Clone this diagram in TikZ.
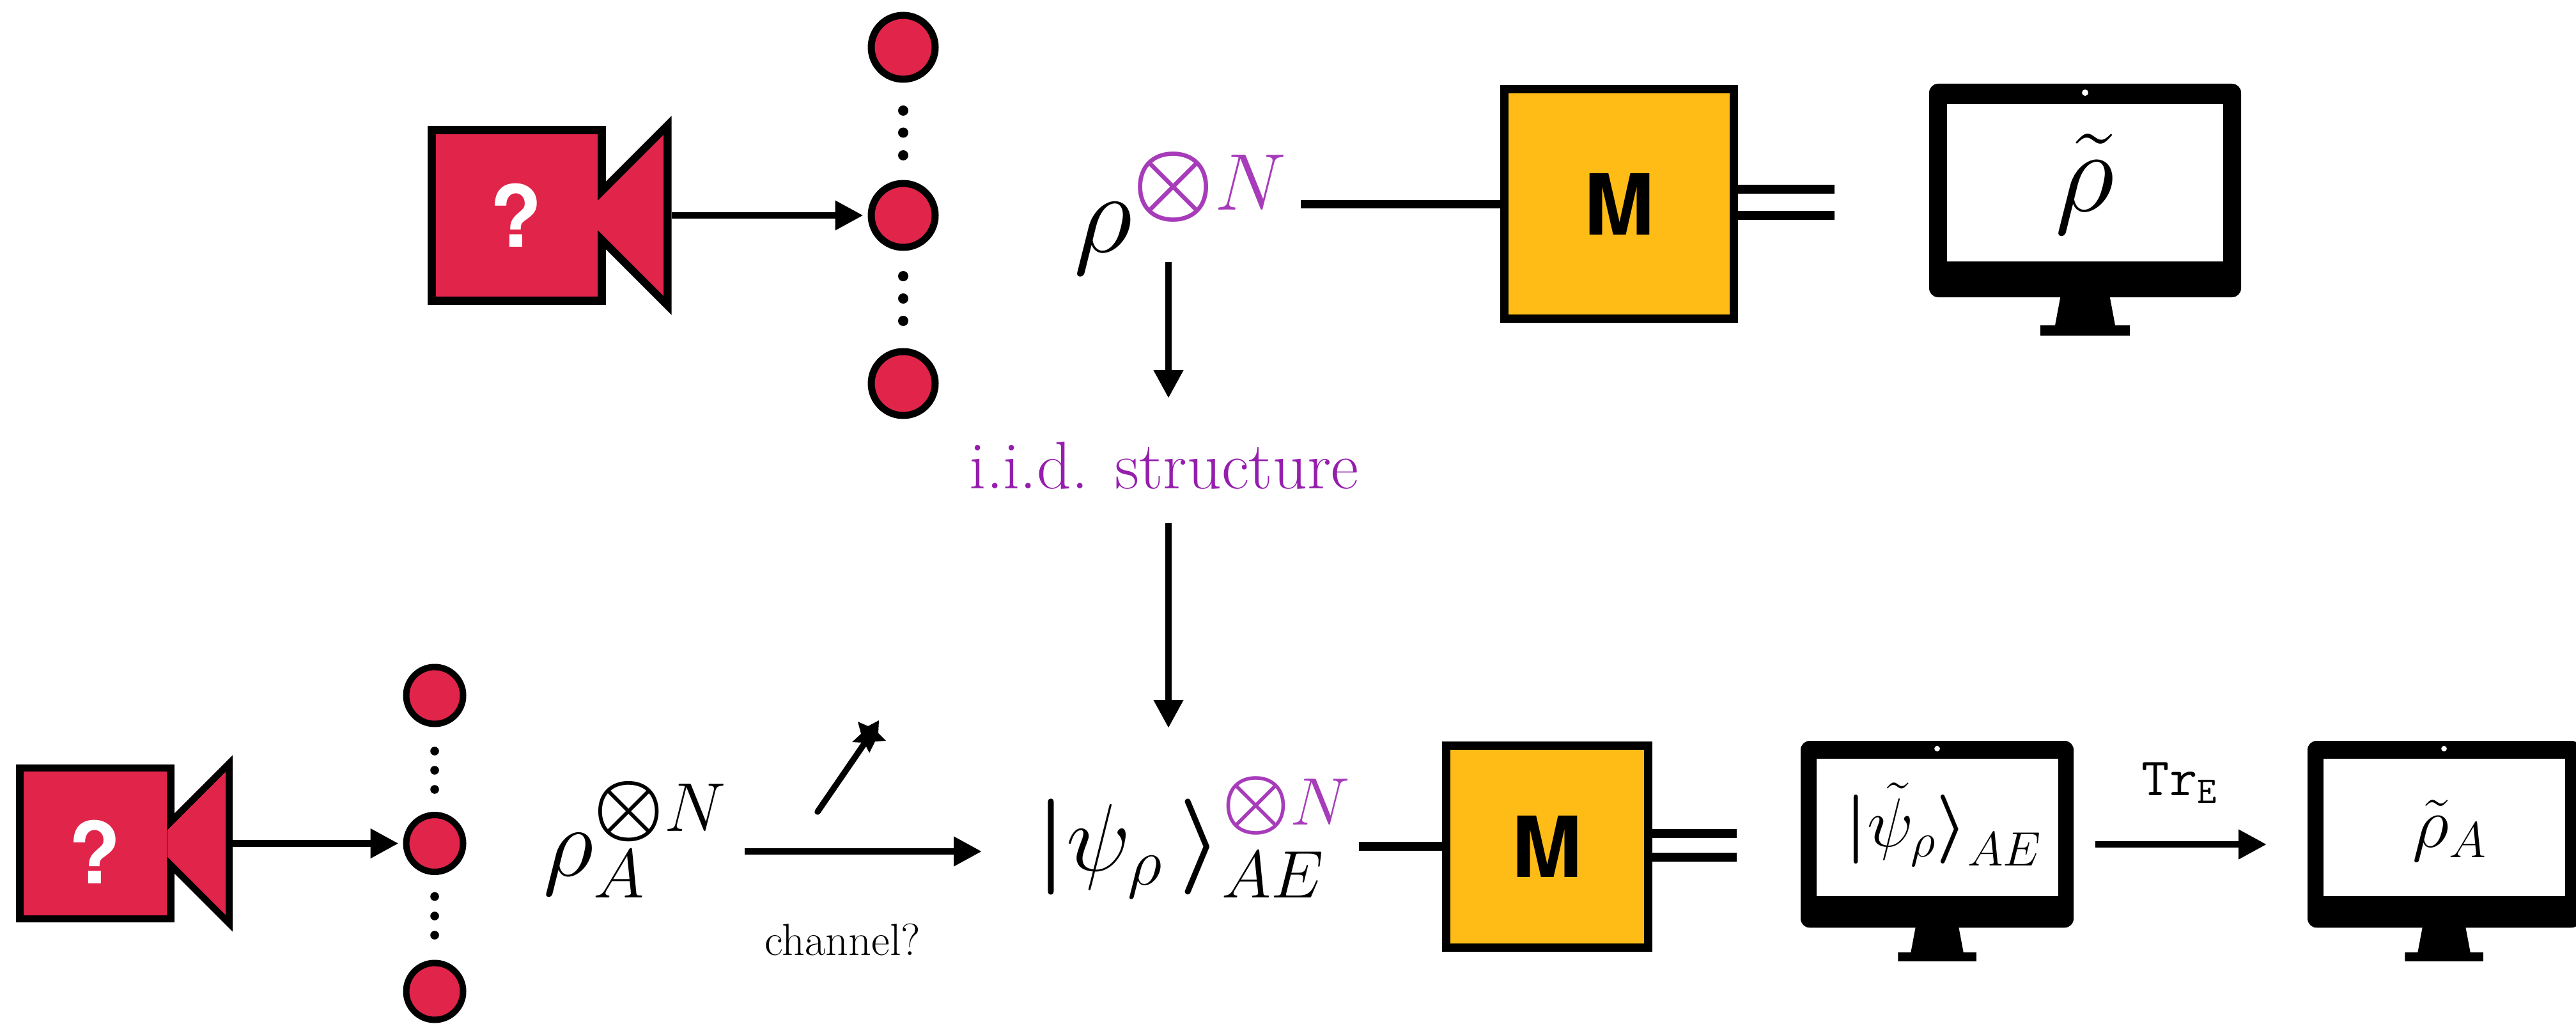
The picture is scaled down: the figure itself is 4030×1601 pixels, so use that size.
\documentclass[tikz,border=0pt]{standalone}
\usepackage{fix-cm}
\usepackage{amsmath}
\usepackage{fontspec}
\usetikzlibrary{arrows.meta}
\newfontfamily\heros{TeX Gyre Heros}
\definecolor{camred}{HTML}{E1244A}
\definecolor{boxamber}{HTML}{FFBC16}
\definecolor{powpurple}{HTML}{A73CBA}
\definecolor{iidpurple}{HTML}{951EAD}
\newcommand{\fsz}[1]{\fontsize{#1}{#1}\selectfont}
\newcommand{\pow}[1]{\textcolor{#1}{\scalebox{1.14}{$\scriptstyle\boldsymbol{\otimes}$}N}}
\tikzset{
    arr/.style={line width=1.05mm,-{Triangle[length=4.4mm,width=4.4mm]}},
    wire/.style={line width=1.33mm},
    measbox/.style={draw=black,fill=boxamber,line width=1.3mm,minimum width=#1,minimum height=#1,inner sep=0pt,font=\heros\bfseries\fsz{37.5}},
    txt/.style={anchor=base west,inner sep=0pt,text=black},
    qubit/.style={circle,draw=black,fill=camred,inner sep=0pt}
}
% camera: name, left edge, middle, scale, shift of the question mark
\newcommand{\camera}[5]{
    \begin{scope}[shift={(#2,#3)},scale=#4]
        \draw[fill=camred,line width=#4*1.3mm] (7,-133) rectangle (273,133);
        \draw[line width=#4*1.3mm] (273,-37) -- (376,-140) -- (376,140) -- (273,37);
        \fill[camred] (267,-23) -- (370,-126) -- (370,126) -- (267,23) -- cycle;
        \node[text=white,inner sep=0pt,font=\heros\bfseries\fsz{38}] (#1q) at (139,#5) {?};
        \coordinate (#1out) at (383,0);
    \end{scope}
}
% monitor: middle, top, scale
\newcommand{\monitor}[3]{
    \begin{scope}[shift={(#1,#2)},scale=#3]
        \fill[rounded corners=1.4mm] (-244,0) rectangle (244,334);
        \fill[white] (-216,32) rectangle (216,278);
        \fill[white] (0,14) circle (5);
        \fill (-38,330) -- (38,330) -- (47,378) -- (70,378) -- (70,394) -- (-70,394) -- (-70,378) -- (-47,378) -- cycle;
    \end{scope}
}
\begin{document}
\begin{tikzpicture}[x=0.1mm,y=-0.1mm]
    \useasboundingbox (0,0) rectangle (4030,1601);

    %top row
    \camera{camtop}{668}{337}{1}{0}
    \node[qubit,minimum size=10mm,line width=1.1mm] (qtopa) at (1413,74) {};
    \node[qubit,minimum size=10mm,line width=1.1mm] (qtopb) at (1413,337) {};
    \node[qubit,minimum size=10mm,line width=1.1mm] (qtopc) at (1413,600) {};
    \foreach \y in {173,207.5,243,432,467,502}
        \fill (1413,\y) circle (8);
    \draw[arr,shorten >=0.7mm] (camtopout) -- (qtopb);

    \node[txt,font=\fsz{51.2}] (rhotop) at (1680,394) {$\rho^{\pow{powpurple}}$};
    \node[measbox=35.9mm] (mtop) at (2533,319.5) {M};
    \coordinate (wiretop) at (2035,319.5);
    \draw[wire] (wiretop) -- (mtop);
    \coordinate (dbltopa) at (2870,296);
    \coordinate (dbltopb) at (2870,337);
    \draw[wire] (dbltopa -| mtop.east) -- (dbltopa);
    \draw[wire] (dbltopb -| mtop.east) -- (dbltopb);

    \monitor{3262}{131}{1}
    \node[txt,font=\fsz{52}] (rhotilde) at (3215,330) {$\tilde{\rho}$};

    %middle
    \node[txt,text=iidpurple,font=\fsz{30}] (iid) at (1516,764) {i.i.d. structure};
    \coordinate (downa) at (1828,410);
    \coordinate (downb) at (1828,623);
    \coordinate (downc) at (1828,818);
    \coordinate (downd) at (1828,1139);
    \draw[arr] (downa) -- (downb);
    \draw[arr] (downc) -- (downd);

    %bottom row
    \camera{cambot}{25}{1319.5}{0.886}{15}
    \node[qubit,minimum size=8.9mm,line width=1mm] (qbota) at (680,1088) {};
    \node[qubit,minimum size=8.9mm,line width=1mm] (qbotb) at (680,1319.5) {};
    \node[qubit,minimum size=8.9mm,line width=1mm] (qbotc) at (680,1551) {};
    \foreach \y in {1175,1205,1235,1402.5,1433,1463}
        \fill (680,\y) circle (6.8);
    \draw[arr,shorten >=0.7mm] (cambotout) -- (qbotb);

    \node[txt,font=\fsz{44}] (rhoa) at (850,1370) {$\rho_A^{\pow{black}}$};

    \coordinate (chana) at (1165,1332);
    \coordinate (chanb) at (1536,1332);
    \draw[arr] (chana) -- (chanb);
    \node[txt,font=\fsz{20}] (chanlabel) at (1196,1494) {channel?};
    %wand
    \coordinate (wandend) at (1279,1270);
    \coordinate (wandstar) at (1360,1152);
    \draw[line width=0.95mm,line cap=round] (wandend) -- (wandstar);
    \fill (1342,1129) -- (1358,1136) -- (1375,1127) -- (1374,1147) -- (1386,1159) -- (1369,1160)
        -- (1360,1178) -- (1352,1162) -- (1333,1161) -- (1347,1148) -- cycle;

    \node[txt,font=\fsz{42.7}] (ketbot) at (1620,1362) {$\boldsymbol{|}\psi_\rho\mkern3mu\boldsymbol{\rangle}^{\pow{powpurple}}_{AE}$};

    \node[measbox=31.6mm] (mbot) at (2420.5,1324) {M};
    \coordinate (wirebot) at (2126,1324);
    \draw[wire] (wirebot) -- (mbot);
    \coordinate (dblbota) at (2717,1304);
    \coordinate (dblbotb) at (2717,1341);
    \draw[wire] (dblbota -| mbot.east) -- (dblbota);
    \draw[wire] (dblbotb -| mbot.east) -- (dblbotb);

    \monitor{3030.5}{1159}{0.875}
    \node[txt,font=\fsz{30.7}] (kettilde) at (2886,1324) {$\boldsymbol{|}\tilde{\psi}_\rho\boldsymbol{\rangle}_{AE}$};

    \coordinate (tra) at (3278,1321);
    \coordinate (trb) at (3546,1321);
    \draw[arr] (tra) -- (trb);
    \node[txt,font=\fsz{24}] (trlabel) at (3350,1244) {$\mathtt{Tr}_{\mathtt{E}}$};

    \monitor{3823.5}{1159}{0.875}
    \node[txt,font=\fsz{32}] (rhoatilde) at (3774,1325) {$\tilde{\rho}_A$};
\end{tikzpicture}
\end{document}
